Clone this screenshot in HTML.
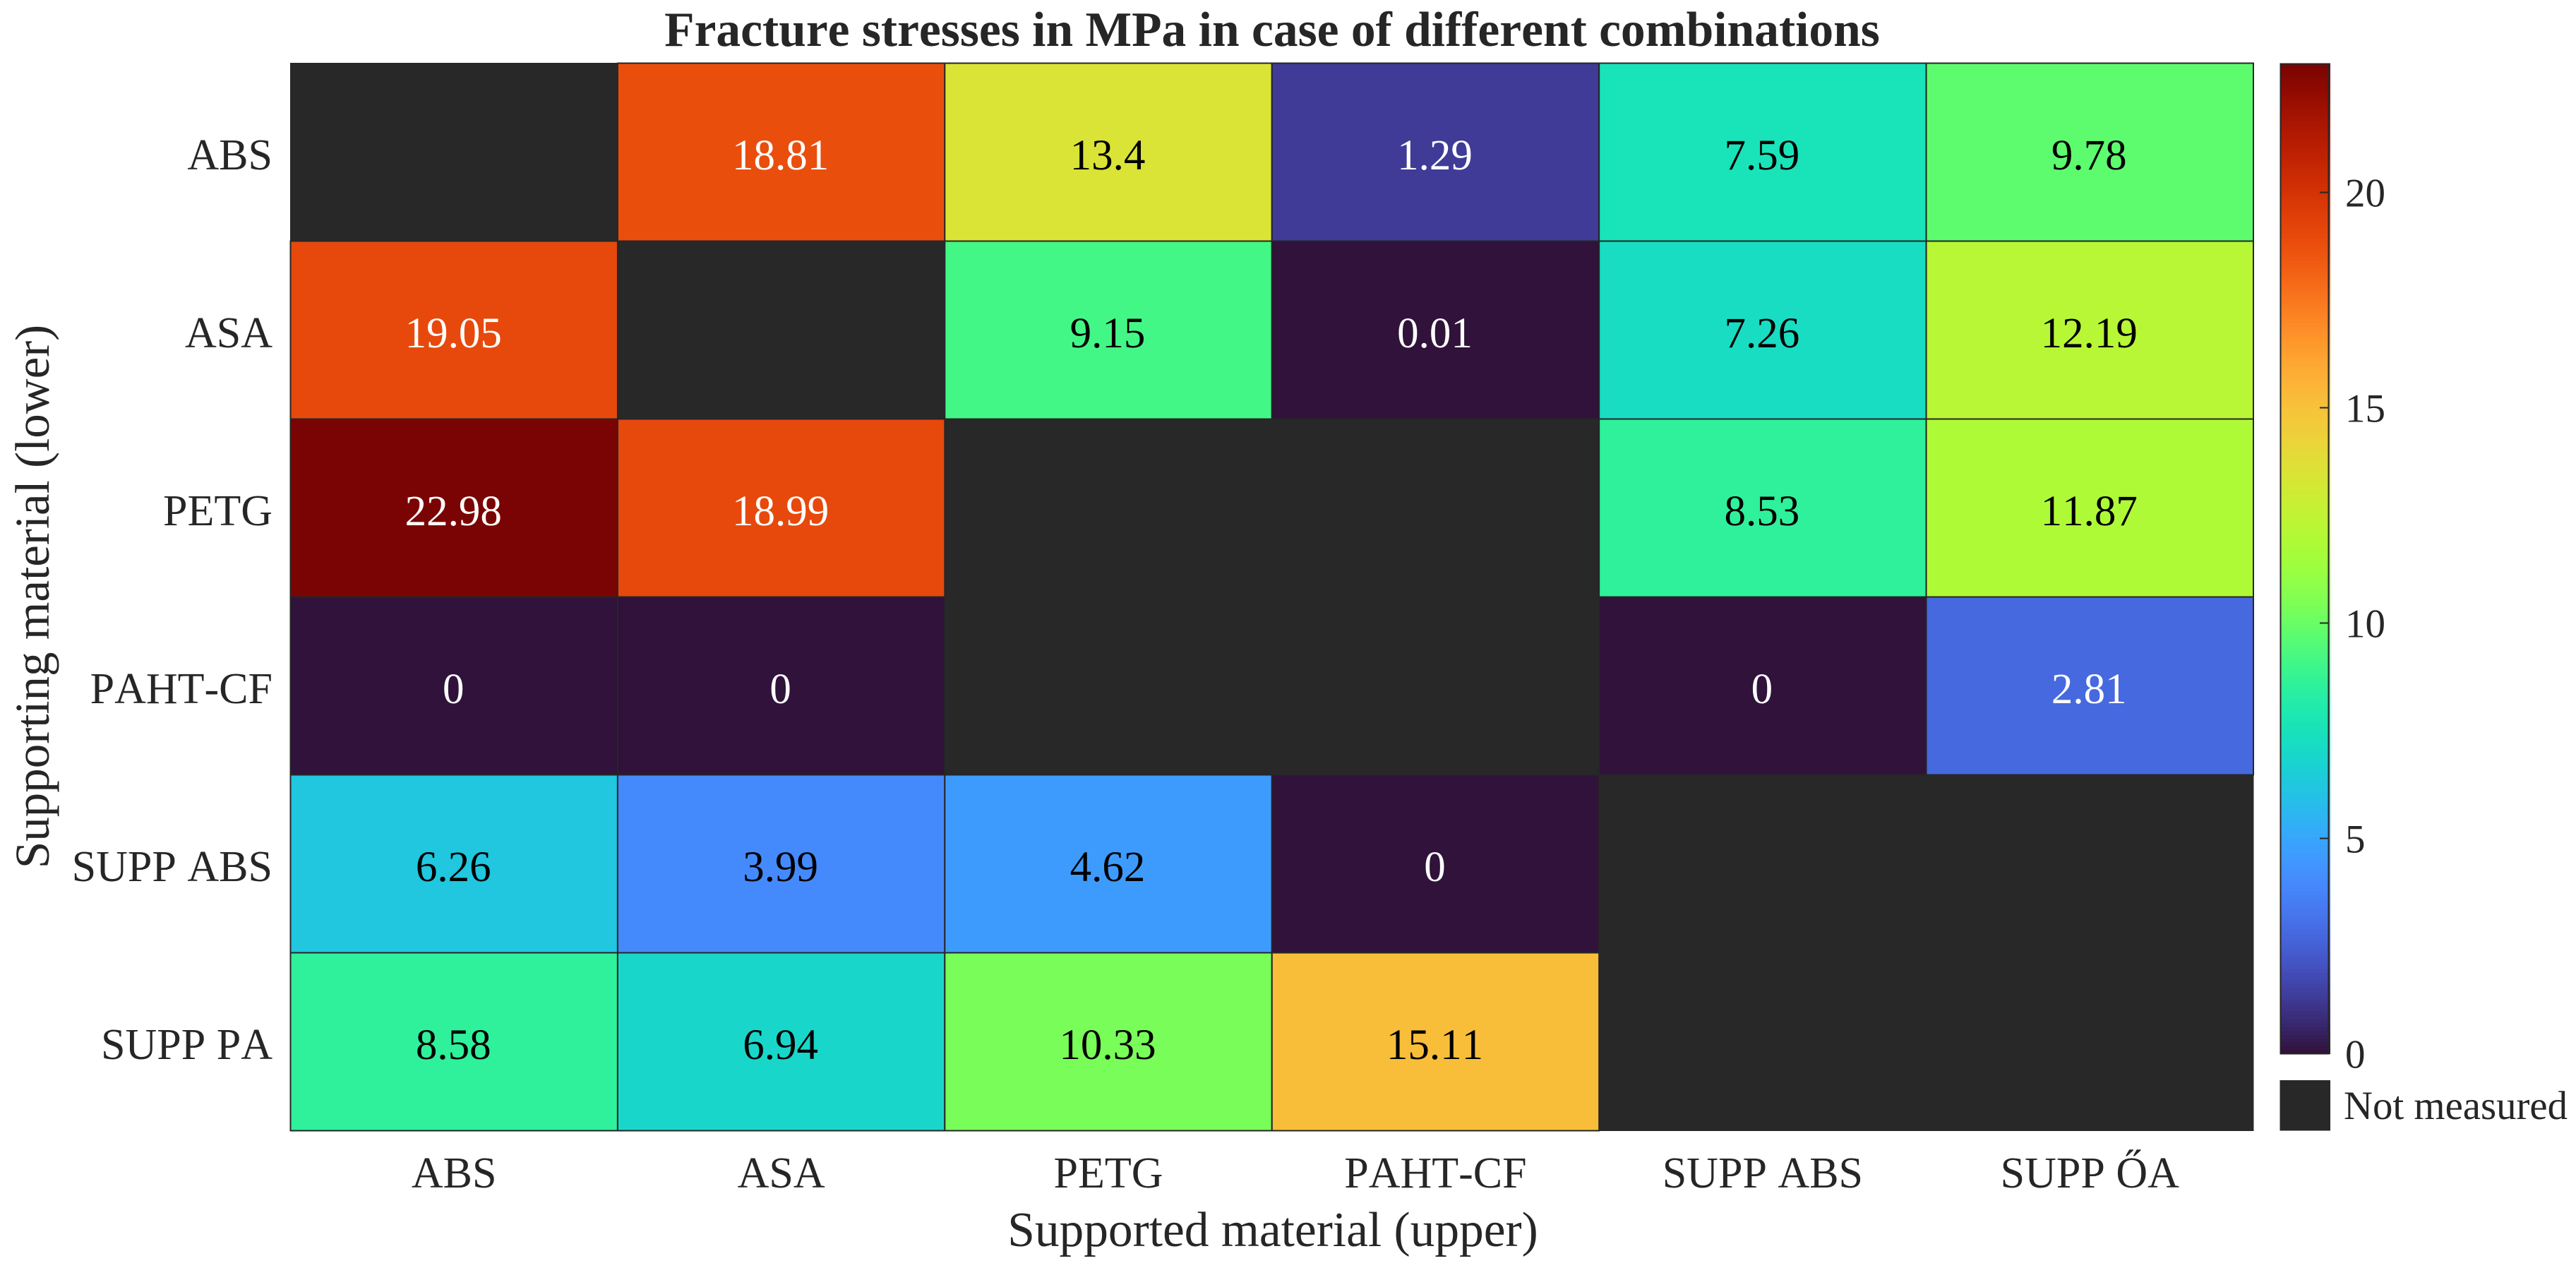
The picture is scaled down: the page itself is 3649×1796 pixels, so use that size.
<!DOCTYPE html>
<html lang="en">
<head>
<meta charset="utf-8">
<title>Fracture stresses</title>
<style>
html,body{margin:0;padding:0;background:#fff;}
svg{display:block;}
text{font-family:"Liberation Serif",serif;fill:#262626;font-kerning:none;}
</style>
</head>
<body>
<svg id="chart" xmlns="http://www.w3.org/2000/svg" width="3649" height="1796" viewBox="0 0 3649 1796">
  <rect x="0" y="0" width="3649" height="1796" fill="#ffffff"/>
  <text x="1802" y="65" font-size="69.5" font-weight="bold" text-anchor="middle">Fracture stresses in MPa in case of different combinations</text>
  <text x="1803" y="1765" font-size="69.4" text-anchor="middle">Supported material (upper)</text>
  <text transform="translate(69 845) rotate(-90)" x="0" y="0" font-size="69" text-anchor="middle">Supporting material (lower)</text>
  <g id="cells"></g>
  <g id="cell-values"></g>
  <g id="x-ticks"></g>
  <g id="y-ticks"></g>
  <g id="colorbar"></g>
  <rect x="3229.5" y="1530" width="71.5" height="71.5" fill="#282828"/>
  <text x="3320" y="1585" font-size="56.8">Not measured</text>
</svg>
<script>
const upperMaterials = ['ABS', 'ASA', 'PETG', 'PAHT-CF', 'SUPP ABS', 'SUPP ŐA'];
const lowerMaterials = ['ABS', 'ASA', 'PETG', 'PAHT-CF', 'SUPP ABS', 'SUPP PA'];
const rowAbs = [null, 18.81, 13.4, 1.29, 7.59, 9.78];
const rowAsa = [19.05, null, 9.15, 0.01, 7.26, 12.19];
const rowPetg = [22.98, 18.99, null, null, 8.53, 11.87];
const rowPahtCf = [0, 0, null, null, 0, 2.81];
const rowSuppAbs = [6.26, 3.99, 4.62, 0, null, null];
const rowSuppPa = [8.58, 6.94, 10.33, 15.11, null, null];
const stressRows = [rowAbs, rowAsa, rowPetg, rowPahtCf, rowSuppAbs, rowSuppPa];
const colorbarTicks = [0, 5, 10, 15, 20];
const colorMin = 0;
const colorMax = 23;

const turbo = [[48,18,59],[50,21,67],[51,24,74],[52,27,81],[53,30,88],[54,33,95],[55,36,102],[56,39,109],[57,42,115],[58,45,121],[59,47,128],[60,50,134],[61,53,139],[62,56,145],[63,59,151],[63,62,156],[64,64,162],[65,67,167],[65,70,172],[66,73,177],[66,75,181],[67,78,186],[68,81,191],[68,84,195],[68,86,199],[69,89,203],[69,92,207],[69,94,211],[70,97,214],[70,100,218],[70,102,221],[70,105,224],[70,107,227],[71,110,230],[71,113,233],[71,115,235],[71,118,238],[71,120,240],[71,123,242],[70,125,244],[70,128,246],[70,130,248],[70,133,250],[70,135,251],[69,138,252],[69,140,253],[68,143,254],[67,145,254],[66,148,255],[65,150,255],[64,153,255],[62,155,254],[61,158,254],[59,160,253],[58,163,252],[56,165,251],[55,168,250],[53,171,248],[51,173,247],[49,175,245],[47,178,244],[46,180,242],[44,183,240],[42,185,238],[40,188,235],[39,190,233],[37,192,231],[35,195,228],[34,197,226],[32,199,223],[31,201,221],[30,203,218],[28,205,216],[27,208,213],[26,210,210],[26,212,208],[25,213,205],[24,215,202],[24,217,200],[24,219,197],[24,221,194],[24,222,192],[24,224,189],[25,226,187],[25,227,185],[26,228,182],[28,230,180],[29,231,178],[31,233,175],[32,234,172],[34,235,170],[37,236,167],[39,238,164],[42,239,161],[44,240,158],[47,241,155],[50,242,152],[53,243,148],[56,244,145],[60,245,142],[63,246,138],[67,247,135],[70,248,132],[74,248,128],[78,249,125],[82,250,122],[85,250,118],[89,251,115],[93,252,111],[97,252,108],[101,253,105],[105,253,102],[109,254,98],[113,254,95],[117,254,92],[121,254,89],[125,255,86],[128,255,83],[132,255,81],[136,255,78],[139,255,75],[143,255,73],[146,255,71],[150,254,68],[153,254,66],[156,254,64],[159,253,63],[161,253,61],[164,252,60],[167,252,58],[169,251,57],[172,251,56],[175,250,55],[177,249,54],[180,248,54],[183,247,53],[185,246,53],[188,245,52],[190,244,52],[193,243,52],[195,241,52],[198,240,52],[200,239,52],[203,237,52],[205,236,52],[208,234,52],[210,233,53],[212,231,53],[215,229,53],[217,228,54],[219,226,54],[221,224,55],[223,223,55],[225,221,55],[227,219,56],[229,217,56],[231,215,57],[233,213,57],[235,211,57],[236,209,58],[238,207,58],[239,205,58],[241,203,58],[242,201,58],[244,199,58],[245,197,58],[246,195,58],[247,193,58],[248,190,57],[249,188,57],[250,186,57],[251,184,56],[251,182,55],[252,179,54],[252,177,54],[253,174,53],[253,172,52],[254,169,51],[254,167,50],[254,164,49],[254,161,48],[254,158,47],[254,155,45],[254,153,44],[254,150,43],[254,147,42],[254,144,41],[253,141,39],[253,138,38],[252,135,37],[252,132,35],[251,129,34],[251,126,33],[250,123,31],[249,120,30],[249,117,29],[248,114,28],[247,111,26],[246,108,25],[245,105,24],[244,102,23],[243,99,21],[242,96,20],[241,93,19],[240,91,18],[239,88,17],[237,85,16],[236,83,15],[235,80,14],[234,78,13],[232,75,12],[231,73,12],[229,71,11],[228,69,10],[226,67,10],[225,65,9],[223,63,8],[221,61,8],[220,59,7],[218,57,7],[216,55,6],[214,53,6],[212,51,5],[210,49,5],[208,47,5],[206,45,4],[204,43,4],[202,42,4],[200,40,3],[197,38,3],[195,37,3],[193,35,2],[190,33,2],[188,32,2],[185,30,2],[183,29,2],[180,27,1],[178,26,1],[175,24,1],[172,23,1],[169,22,1],[167,20,1],[164,19,1],[161,18,1],[158,16,1],[155,15,1],[152,14,1],[149,13,1],[146,11,1],[142,10,1],[139,9,2],[136,8,2],[133,7,2],[129,6,2],[126,5,2],[122,4,3]];

const SVG_NS = 'http://www.w3.org/2000/svg';
const plotLeft = 411.5, plotRight = 3192, plotTop = 89.5, plotBottom = 1601.5;
const cbLeft = 3229.5, cbRight = 3301, cbFrameRight = 3298.5, cbTop = 89.5, cbBottom = 1492.5;
const INK = '#262626';

function make(tag, attrs) {
  const el = document.createElementNS(SVG_NS, tag);
  for (const k in attrs) el.setAttribute(k, attrs[k]);
  return el;
}
function slug(s) { return s.toLowerCase().replace(/[^a-z0-9]+/g, '-'); }
function xBand(i) { return plotLeft + i * (plotRight - plotLeft) / upperMaterials.length; }
function yBand(j) { return plotTop + j * (plotBottom - plotTop) / lowerMaterials.length; }
function colorScale(v) {
  const t = Math.max(0, Math.min(1, (v - colorMin) / (colorMax - colorMin)));
  const c = turbo[Math.round(t * (turbo.length - 1))];
  return 'rgb(' + c[0] + ',' + c[1] + ',' + c[2] + ')';
}
function cbY(v) { return cbBottom - (v - colorMin) / (colorMax - colorMin) * (cbBottom - cbTop); }

const cellsG = document.getElementById('cells');
const valuesG = document.getElementById('cell-values');
const xTicksG = document.getElementById('x-ticks');
const yTicksG = document.getElementById('y-ticks');
const cbG = document.getElementById('colorbar');

const missingColor = '#282828';
stressRows.forEach(function (row, j) {
  row.forEach(function (v, i) {
    if (v !== null) return;
    const bg = make('rect', {x: xBand(i), y: yBand(j), width: xBand(i + 1) - xBand(i), height: yBand(j + 1) - yBand(j), fill: missingColor, stroke: missingColor, 'stroke-width': 1});
    
    
    cellsG.appendChild(bg);
  });
});
stressRows.forEach(function (row, j) {
  row.forEach(function (v, i) {
    if (v === null) return;
    const cell = make('rect', {x: xBand(i), y: yBand(j), width: xBand(i + 1) - xBand(i), height: yBand(j + 1) - yBand(j), fill: colorScale(v), stroke: INK, 'stroke-width': 2});
    
    
    cellsG.appendChild(cell);
    const label = make('text', {x: (xBand(i) + xBand(i + 1)) / 2 - 1, y: (yBand(j) + yBand(j + 1)) / 2 + 24.5, 'font-size': 61, 'text-anchor': 'middle'});
    label.style.fill = (v < 3 || v > 17) ? '#ffffff' : '#000000';
    label.textContent = String(v);
    
    
    valuesG.appendChild(label);
  });
});

upperMaterials.forEach(function (name, i) {
  const t = make('text', {x: (xBand(i) + xBand(i + 1)) / 2, y: 1682, 'font-size': 62, 'text-anchor': 'middle'});
  t.textContent = name;
  
  
  xTicksG.appendChild(t);
});
lowerMaterials.forEach(function (name, j) {
  const t = make('text', {x: 386, y: (yBand(j) + yBand(j + 1)) / 2 + 24.5, 'font-size': 62, 'text-anchor': 'end'});
  t.textContent = name;
  
  
  yTicksG.appendChild(t);
});

const stepH = (cbBottom - cbTop) / turbo.length;
turbo.forEach(function (c, k) {
  const r = make('rect', {x: cbLeft, y: cbBottom - (k + 1) * stepH, width: cbRight - cbLeft, height: stepH + 0.6, fill: 'rgb(' + c[0] + ',' + c[1] + ',' + c[2] + ')'});
  
  
  cbG.appendChild(r);
});
const cbFrame = make('rect', {x: cbLeft + 1, y: cbTop + 1, width: cbFrameRight - cbLeft - 1, height: cbBottom - cbTop - 1, fill: 'none', stroke: INK, 'stroke-width': 2});


cbG.appendChild(cbFrame);
colorbarTicks.forEach(function (v) {
  const y = cbY(v);
  const tick = make('line', {x1: 3286, x2: cbFrameRight, y1: y, y2: y, stroke: INK, 'stroke-width': 2});
  
  
  cbG.appendChild(tick);
  const label = make('text', {x: 3322, y: y + 20, 'font-size': 57});
  label.textContent = String(v);
  
  
  cbG.appendChild(label);
});
</script>
</body>
</html>
